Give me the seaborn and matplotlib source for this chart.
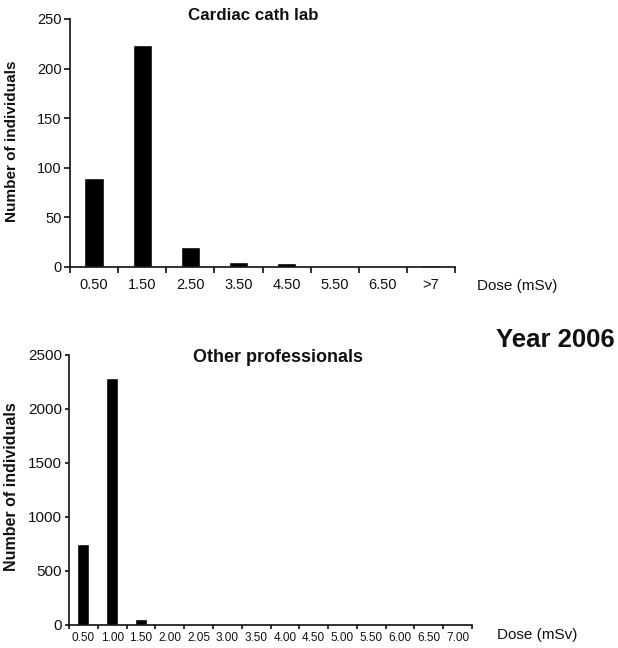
import matplotlib
matplotlib.use("Agg")
import matplotlib.pyplot as plt
import seaborn as sns
import pandas as pd
from matplotlib.ticker import FixedLocator

# ---- data ----
cath_doses = ["0.50", "1.50", "2.50", "3.50", "4.50", "5.50", "6.50", ">7"]
cath_counts = [90, 224, 20, 5, 4, 0, 0, 2]

other_doses = ["0.50", "1.00", "1.50", "2.00", "2.05", "3.00", "3.50",
               "4.00", "4.50", "5.00", "5.50", "6.00", "6.50", "7.00"]
other_counts = [750, 2290, 53, 10, 0, 0, 0, 0, 0, 0, 0, 0, 0, 0]

cath_title = "Cardiac cath lab"
other_title = "Other professionals"
y_label = "Number of individuals"
x_label = "Dose (mSv)"
year_label = "Year 2006"

sns.set_theme(style="white")
plt.rcParams['font.family'] = ['Liberation Sans', 'DejaVu Sans']

fig = plt.figure(figsize=(6.18, 6.48), dpi=100)
W, H = 618, 648

def axes_px(l, t, r, b):
    return fig.add_axes([l / W, 1 - b / H, (r - l) / W, (b - t) / H])

ax1 = axes_px(70, 19, 455, 267)
ax2 = axes_px(69, 355, 472, 625)

df1 = pd.DataFrame({"dose": cath_doses, "count": cath_counts})
df2 = pd.DataFrame({"dose": other_doses, "count": other_counts})

sns.barplot(data=df1, x="dose", y="count", color="black", width=0.4,
            saturation=1, ax=ax1, order=cath_doses)
sns.barplot(data=df2, x="dose", y="count", color="black", width=0.42,
            saturation=1, ax=ax2, order=other_doses)

def style(ax, n, ymax, ystep, xfs, yfs, xpad, tl):
    ax.set_xlim(-0.5, n - 0.5)
    ax.set_ylim(0, ymax)
    ax.set_yticks(range(0, ymax + 1, ystep))
    ax.set_xlabel("")
    ax.set_ylabel("")
    for s in ["top", "right"]:
        ax.spines[s].set_visible(False)
    for s in ["left", "bottom"]:
        ax.spines[s].set_color("#111111")
        ax.spines[s].set_linewidth(1.2)
    ax.xaxis.set_minor_locator(FixedLocator([i - 0.5 for i in range(n + 1)]))
    ax.tick_params(axis="x", which="major", length=0, labelsize=xfs, pad=xpad, colors="#111111")
    ax.tick_params(axis="x", which="minor", bottom=True, length=tl, width=1.2, color="#111111", direction="out")
    ax.tick_params(axis="y", left=True, length=tl, width=1.2, color="#111111", labelsize=yfs, pad=2, labelcolor="#111111")
    ax.grid(False)

style(ax1, len(cath_doses), 250, 50, 10.5, 10.5, 8, 4)
style(ax2, len(other_doses), 2500, 500, 8.5, 11, 5, 3)

fig.text(188 / W, 1 - 16 / H, cath_title, fontsize=12.2, fontweight="bold", ha="left", va="center", color="#111111")
fig.text(193 / W, 1 - 358 / H, other_title, fontsize=13, fontweight="bold", ha="left", va="center", color="#111111")
fig.text(12 / W, 1 - 141 / H, y_label, fontsize=11, fontweight="bold", rotation=90, ha="center", va="center", color="#111111")
fig.text(12 / W, 1 - 487 / H, y_label, fontsize=11.5, fontweight="bold", rotation=90, ha="center", va="center", color="#111111")
fig.text(477 / W, 1 - 286 / H, x_label, fontsize=11, ha="left", va="center", color="#111111")
fig.text(497 / W, 1 - 635 / H, x_label, fontsize=11, ha="left", va="center", color="#111111")
fig.text(496 / W, 1 - 340 / H, year_label, fontsize=18.5, fontweight="bold", ha="left", va="center", color="#111111")

fig.savefig("out.png", dpi=100)
